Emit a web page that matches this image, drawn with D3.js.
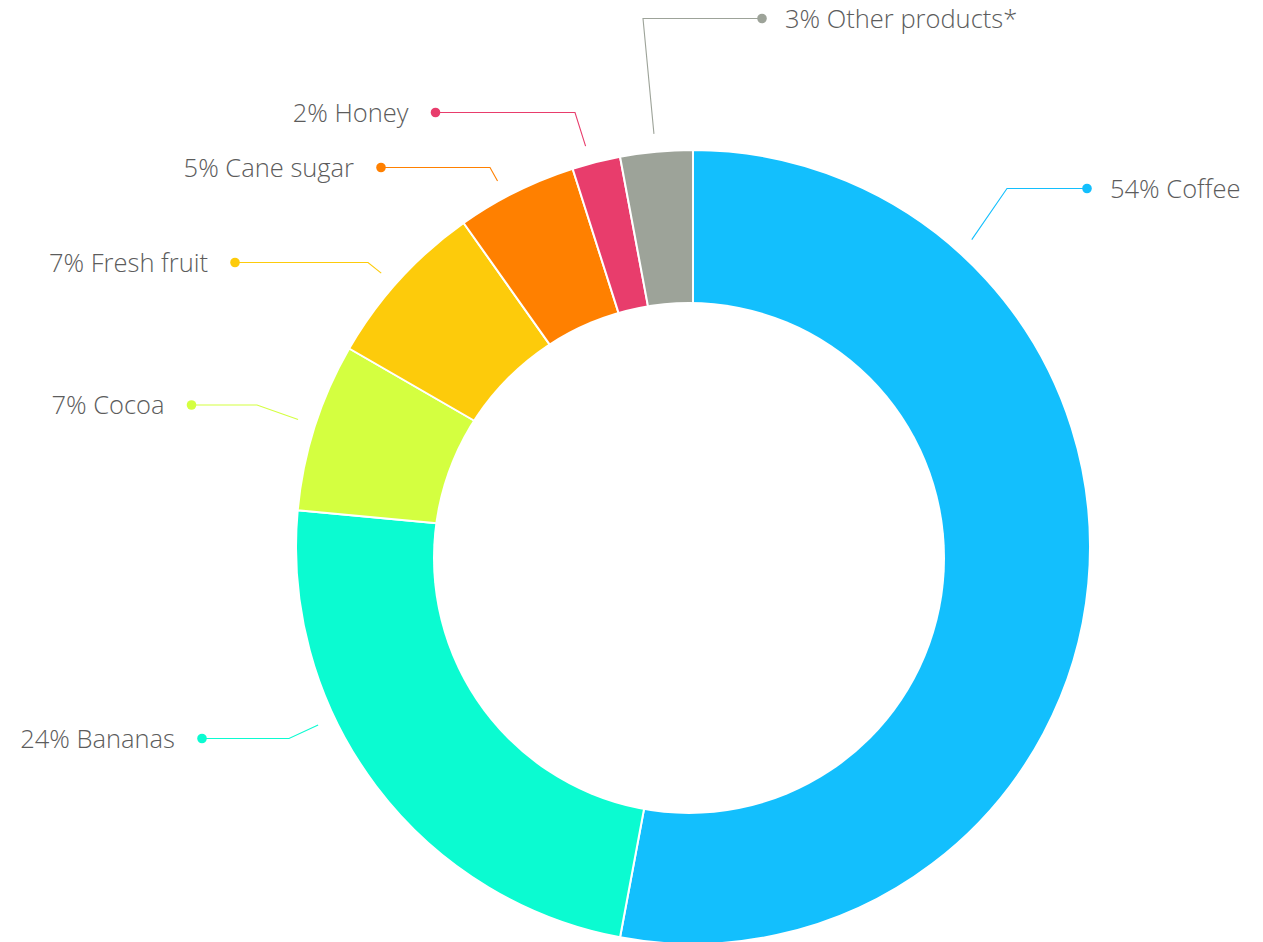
<!DOCTYPE html>
<html>
<head>
<meta charset="utf-8">
<script src="https://cdn.jsdelivr.net/npm/d3@7"></script>
<style>
  html, body { margin: 0; padding: 0; background: #ffffff; }
  svg { display: block; }
  .label { font-family: "Open Sans", "Noto Sans", sans-serif; font-weight: 300; fill: #5c5c5c; }
</style>
</head>
<body>
<svg id="chart" width="1263" height="942"></svg>
<script>
// Product shares (%)
const categories = ["Coffee", "Bananas", "Cocoa", "Fresh fruit", "Cane sugar", "Honey", "Other products*"];
const shares     = [54, 24, 7, 7, 5, 2, 3];
const colors     = ["#13bffd", "#0bfbd1", "#d4ff40", "#fdcb0b", "#ff8000", "#e83d6c", "#9da399"];

// Label placement: leader start angle (deg, null = slice middle), label row y, elbow x, dot x
const labelLayout = {
  "Coffee":          { angle: 42.2,  y: 188.5, elbowX: 1007, dotX: 1087 },
  "Bananas":         { angle: 244.6, y: 738.5, elbowX: 289,  dotX: 202 },
  "Cocoa":           { angle: 287.9, y: 405,   elbowX: 257,  dotX: 191.5 },
  "Fresh fruit":     { angle: 311.3, y: 262.5, elbowX: 368,  dotX: 235 },
  "Cane sugar":      { angle: 331.9, y: 167.5, elbowX: 490,  dotX: 381 },
  "Honey":           { angle: 345.0, y: 112.5, elbowX: 575,  dotX: 435.5 },
  "Other products*": { angle: 354.6, y: 18.5,  elbowX: 643,  dotX: 762 }
};

const svg = d3.select("#chart");
const cx = 693, cy = 547;          // ring centre
const outerR = 397;
const holeCx = 689, holeCy = 558, holeR = 256;  // hole of the ring
const tickR = 415;

const data = categories.map((c, i) => ({ name: c, value: shares[i], color: colors[i] }));

const pie = d3.pie().value(d => d.value).sort(null);
const arcs = pie(data);

const arc = d3.arc().innerRadius(225).outerRadius(outerR);

const g = svg.append("g").attr("transform", `translate(${cx},${cy})`);

g.selectAll("path.slice")
  .data(arcs)
  .enter().append("path")
  .attr("class", "slice")
  .attr("d", arc)
  .attr("fill", d => d.data.color)
  .attr("stroke", "#ffffff")
  .attr("stroke-width", 2)
  .attr("stroke-linejoin", "round");

// centre hole
svg.append("circle")
  .attr("cx", holeCx).attr("cy", holeCy).attr("r", holeR)
  .attr("fill", "#ffffff");

// leader lines, dots and labels
const labels = svg.append("g");
arcs.forEach(a => {
  const lay = labelLayout[a.data.name];
  const ang = lay.angle != null ? lay.angle * Math.PI / 180 : (a.startAngle + a.endAngle) / 2;
  const x0 = cx + tickR * Math.sin(ang);
  const y0 = cy - tickR * Math.cos(ang);
  const pts = [[x0, y0], [lay.elbowX, lay.y], [lay.dotX, lay.y]];
  labels.append("path")
    .attr("d", d3.line()(pts))
    .attr("fill", "none")
    .attr("stroke", a.data.color)
    .attr("stroke-width", 1.1);
  labels.append("circle")
    .attr("cx", lay.dotX).attr("cy", lay.y).attr("r", 4.8)
    .attr("fill", a.data.color);
  const right = lay.dotX > cx;
  labels.append("text")
    .attr("class", "label")
    .attr("x", right ? lay.dotX + 23 : lay.dotX - 27)
    .attr("y", lay.y)
    .attr("dy", "0.36em")
    .attr("text-anchor", right ? "start" : "end")
    .style("font-size", "25.5px")
    .text(`${a.data.value}% ${a.data.name}`);
});
</script>
</body>
</html>
